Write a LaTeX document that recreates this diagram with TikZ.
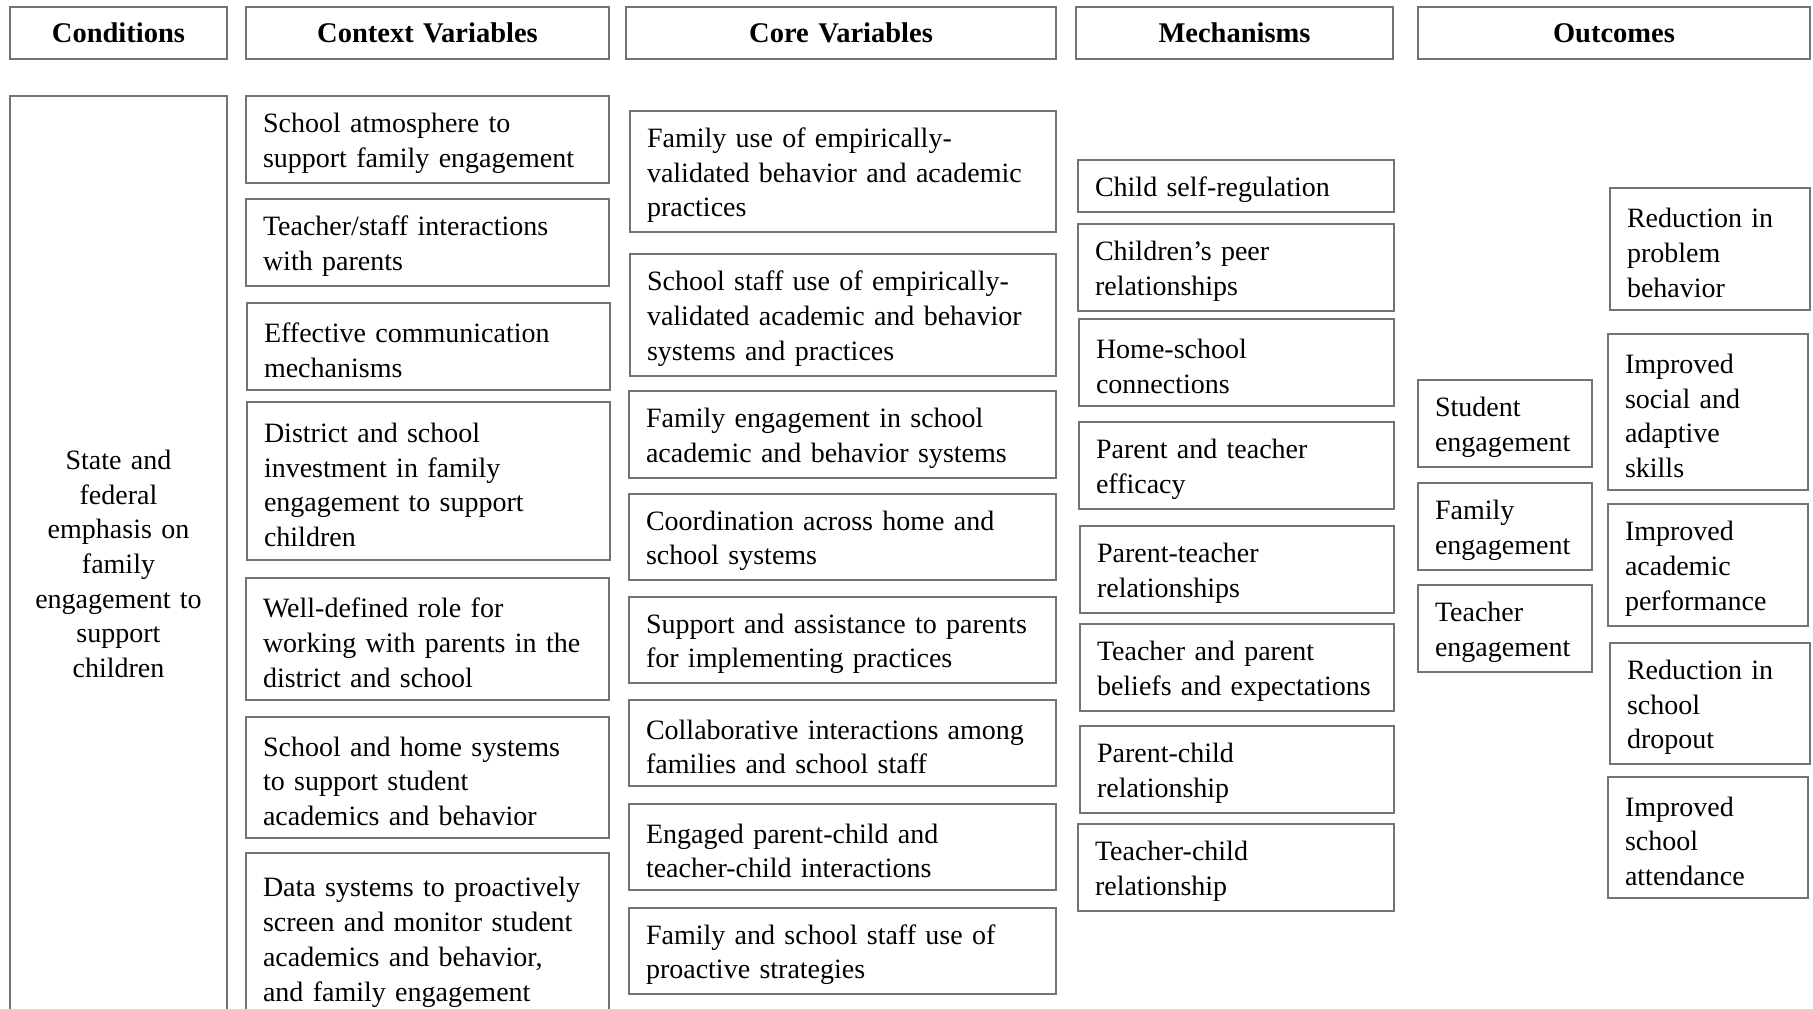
\documentclass[tikz,border=0pt]{standalone}
\usepackage{fontspec}
\setmainfont{Liberation Serif}
\begin{document}
\begin{tikzpicture}[x=1pt,y=-1pt,
  plain/.style={draw=black!55, line width=2.2pt, fill=white, rectangle, outer sep=0pt,
    inner xsep=17pt, inner ysep=4pt, align=left,
    font=\fontsize{28}{34.7}\selectfont},
  box/.style={plain, execute at begin node={\rule{0pt}{27pt}}},
  condbox/.style={plain, align=center},
  head/.style={plain, align=center, font=\fontsize{28.5}{32}\selectfont\bfseries}]
\newcommand\bx[7][box]{%
  \pgfmathsetmacro\bw{#5-#3}%
  \pgfmathsetmacro\bh{#6-#4}%
  \pgfmathsetmacro\tw{#5-#3-34}%
  \node[#1, anchor=north west, minimum width=\bw pt, minimum height=\bh pt, text width=\tw pt] (#2) at (#3,#4) {#7};}
\clip (0,0) rectangle (1813,1009);
% headers
\bx[head]{hcond}{10}{7}{227}{59}{Conditions}
\bx[head]{hctx}{246}{7}{609}{59}{Context Variables}
\bx[head]{hcore}{626}{7}{1056}{59}{Core Variables}
\bx[head]{hmech}{1076}{7}{1393}{59}{Mechanisms}
\bx[head]{hout}{1418}{7}{1810}{59}{Outcomes}
% conditions
\bx[condbox]{cond}{10}{96}{227}{1032}{State and\\federal\\emphasis on\\family\\engagement to\\support\\children}
% context
\bx{x1}{246}{96}{609}{183}{School atmosphere to\\support family engagement}
\bx{x2}{246}{199}{609}{286}{Teacher/staff interactions\\with parents}
\bx{x3}{247}{303}{610}{390}{Effective communication\\mechanisms}
\bx{x4}{247}{402}{610}{560}{District and school\\investment in family\\engagement to support\\children}
\bx{x5}{246}{578}{609}{700}{Well-defined role for\\working with parents in the\\district and school}
\bx{x6}{246}{717}{609}{838}{School and home systems\\to support student\\academics and behavior}
\bx{x7}{246}{853}{609}{1024}{Data systems to proactively\\screen and monitor student\\academics and behavior,\\and family engagement}
% core
\bx{c1}{630}{111}{1056}{232}{Family use of empirically-\\validated behavior and academic\\practices}
\bx{c2}{630}{254}{1056}{376}{School staff use of empirically-\\validated academic and behavior\\systems and practices}
\bx{c3}{629}{391}{1056}{478}{Family engagement in school\\academic and behavior systems}
\bx{c4}{629}{494}{1056}{580}{Coordination across home and\\school systems}
\bx{c5}{629}{597}{1056}{683}{Support and assistance to parents\\for implementing practices}
\bx{c6}{629}{700}{1056}{786}{Collaborative interactions among\\families and school staff}
\bx{c7}{629}{804}{1056}{890}{Engaged parent-child and\\teacher-child interactions}
\bx{c8}{629}{908}{1056}{994}{Family and school staff use of\\proactive strategies}
% mechanisms
\bx{m1}{1078}{160}{1394}{212}{Child self-regulation}
\bx{m2}{1078}{224}{1394}{311}{Children’s peer\\relationships}
\bx{m3}{1079}{319}{1394}{406}{Home-school\\connections}
\bx{m4}{1079}{422}{1394}{509}{Parent and teacher\\efficacy}
\bx{m5}{1080}{526}{1394}{613}{Parent-teacher\\relationships}
\bx{m6}{1080}{624}{1394}{711}{Teacher and parent\\beliefs and expectations}
\bx{m7}{1080}{726}{1394}{813}{Parent-child\\relationship}
\bx{m8}{1078}{824}{1394}{911}{Teacher-child\\relationship}
% outcomes left
\bx{e1}{1418}{380}{1592}{467}{Student\\engagement}
\bx{e2}{1418}{483}{1592}{570}{Family\\engagement}
\bx{e3}{1418}{585}{1592}{672}{Teacher\\engagement}
% outcomes right
\bx{o1}{1610}{188}{1810}{310}{Reduction in\\problem\\behavior}
\bx{o2}{1608}{334}{1808}{490}{Improved\\social and\\adaptive\\skills}
\bx{o3}{1608}{504}{1808}{626}{Improved\\academic\\performance}
\bx{o4}{1610}{643}{1810}{764}{Reduction in\\school\\dropout}
\bx{o5}{1608}{777}{1808}{898}{Improved\\school\\attendance}
\end{tikzpicture}
\end{document}
